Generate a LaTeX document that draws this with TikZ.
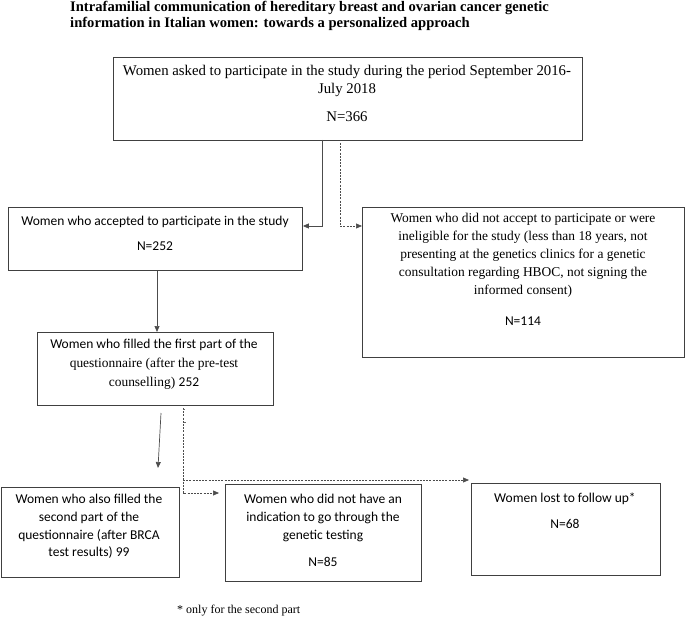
\documentclass[tikz,border=0pt]{standalone}
\usepackage{fontspec}
\setmainfont{Liberation Serif}
\newfontfamily\calibri{Carlito}
\usetikzlibrary{arrows.meta}
\begin{document}
\begin{tikzpicture}[x=1pt,y=-1pt,
  box/.style={draw=black!75,line width=0.9pt,anchor=north west,inner sep=0pt},
  serif/.style={font=\fontsize{13.45}{18}\selectfont,align=center,inner sep=0pt},
  bigserif/.style={font=\fontsize{14.8}{18}\selectfont,align=center,inner sep=0pt},
  sans/.style={font=\calibri\fontsize{13.5}{17.8}\selectfont,align=center,inner sep=0pt},
  conn/.style={draw=black!70,line width=0.7pt,-{Triangle[length=6pt,width=5pt]}},
  dconn/.style={conn,dash pattern=on 2pt off 1.2pt},
  dline/.style={draw=black!60,line width=0.6pt,dash pattern=on 2pt off 1.2pt}]
\useasboundingbox (0,0) rectangle (685,620);
% title
\node[font=\bfseries\fontsize{14.6}{16}\selectfont,align=left,anchor=north west,inner sep=0pt] (title) at (70,1)
  {Intrafamilial communication of hereditary breast and ovarian cancer genetic\\
   information in Italian women: towards a personalized approach};
% boxes
\node[box,minimum width=469pt,minimum height=83pt] (b1) at (113,57) {};
\node[box,minimum width=294pt,minimum height=63pt] (b2) at (8,207) {};
\node[box,minimum width=322pt,minimum height=150pt] (b3) at (362,207) {};
\node[box,minimum width=236pt,minimum height=73pt] (b4) at (37,332) {};
\node[box,minimum width=178pt,minimum height=90pt] (b5) at (0.5,487) {};
\node[box,minimum width=196pt,minimum height=97pt] (b6) at (225,484) {};
\node[box,minimum width=189pt,minimum height=92pt] (b7) at (471,483) {};
% texts
\node[bigserif,anchor=north] (t1) at (347,65) {Women asked to participate in the study during the period September 2016-\\July 2018};
\node[bigserif] (t1n) at (347,117) {N=366};
\node[sans] (t2) at (155,222) {Women who accepted to participate in the study};
\node[sans] (t2n) at (155,246) {N=252};
\node[serif,anchor=north] (t3) at (523,213) {Women who did not accept to participate or were\\ineligible for the study (less than 18 years, not\\presenting at the genetics clinics for a genetic\\consultation regarding HBOC, not signing the\\informed consent)};
\node[sans] (t3n) at (523,321) {N=114};
\node[sans] (t4a) at (154,345) {Women who filled the first part of the};
\node[serif] (t4b) at (154,364) {questionnaire (after the pre-test};
\node[serif] (t4c) at (154,383) {counselling) {\calibri 252}};
\node[sans,anchor=north] (t5) at (89,494) {Women who also filled the\\second part of the\\questionnaire (after BRCA\\test results) 99};
\node[sans,anchor=north] (t6) at (323,494) {Women who did not have an\\indication to go through the\\genetic testing};
\node[sans] (t6n) at (323,562) {N=85};
\node[sans] (t7) at (565,499) {Women lost to follow up*};
\node[sans] (t7n) at (565,524) {N=68};
\node[font=\fontsize{12}{14}\selectfont,anchor=west,inner sep=0pt] (foot) at (177,611) {* only for the second part};
% connectors
\coordinate (c1) at (322,140);
\coordinate (c2) at (340,143);
\draw[conn] (c1) |- (b2.east |- 0,226);
\draw[dconn] (c2) |- (b3.west |- 0,226);
\draw[conn] (b2.south -| 157,0) -- (b4.north -| 157,0);
\coordinate (c3) at (161,413);
\coordinate (c4) at (158,468);
\draw[conn] (c3) -- (c4);
\coordinate (c5) at (183,408);
\coordinate (c6) at (219,493);
\coordinate (c7) at (469,480);
\coordinate (c8) at (183,480);
\draw[dconn] (c5) |- (c6);
\draw[dconn] (c8) -- (c7);
\coordinate (s1) at (183,409);
\coordinate (s2) at (186,409);
\coordinate (s3) at (184,422);
\coordinate (s4) at (187,422);
\draw[dline] (s1) -- (s2);
\draw[dline] (s3) -- (s4);
\end{tikzpicture}
\end{document}
